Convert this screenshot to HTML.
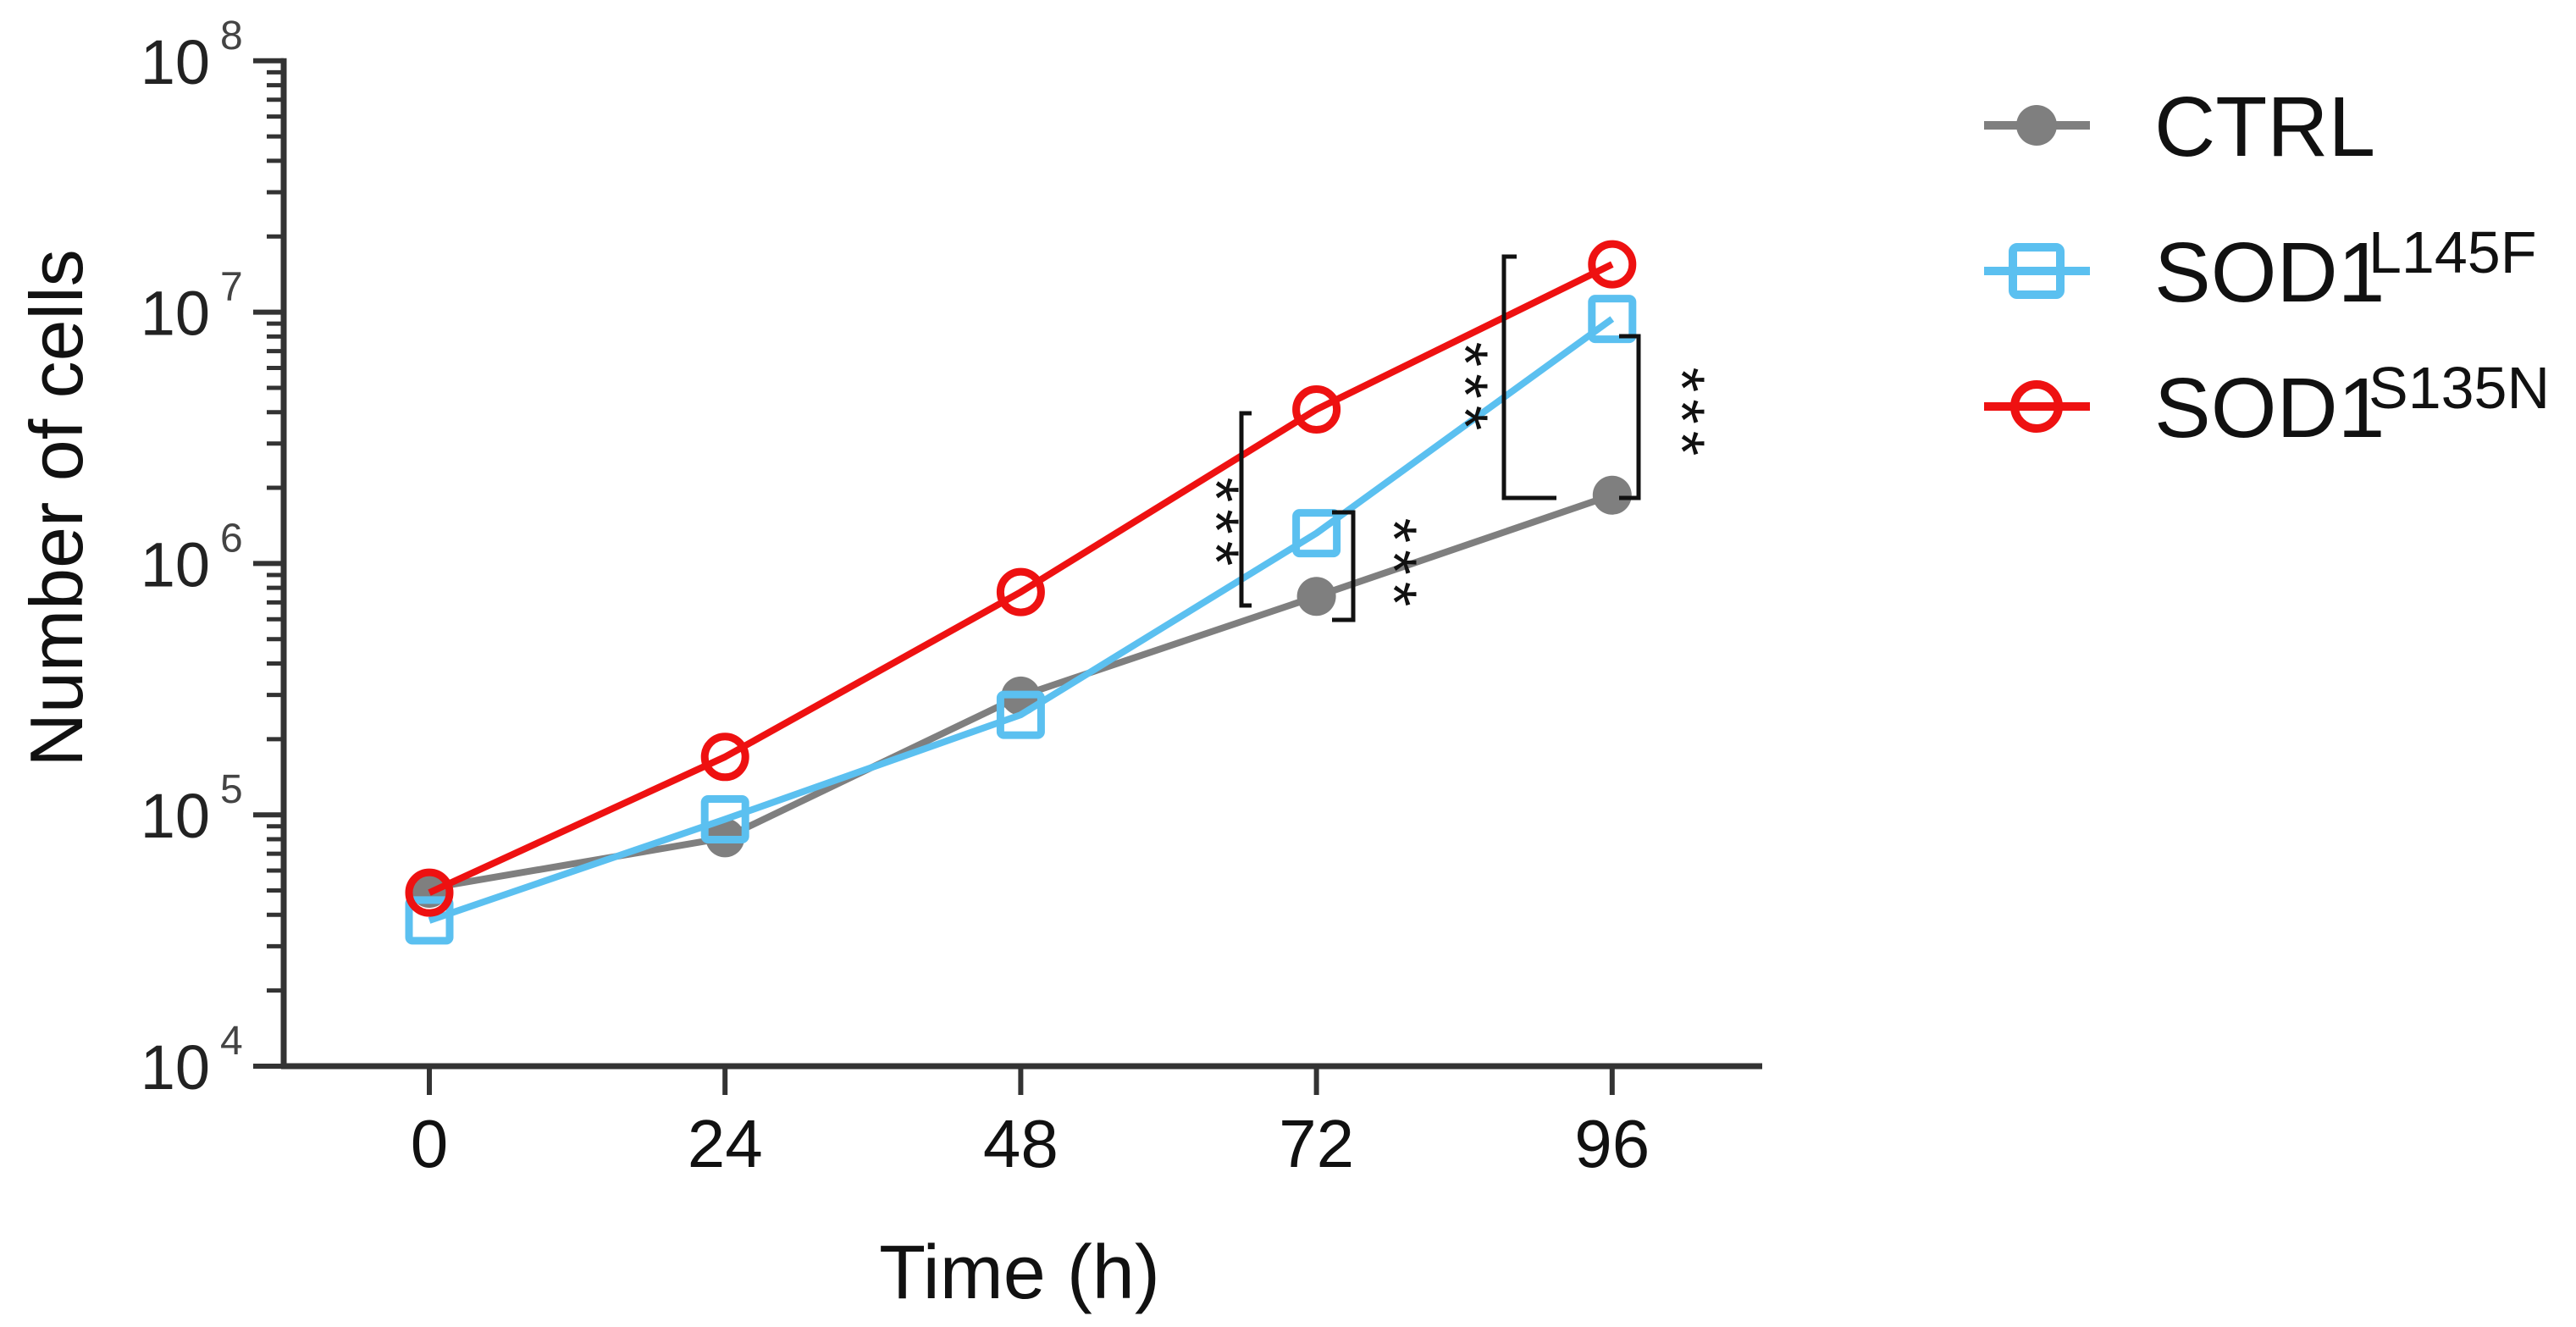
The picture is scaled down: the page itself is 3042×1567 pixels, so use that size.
<!DOCTYPE html>
<html><head><meta charset="utf-8"><style>
html,body{margin:0;padding:0;background:#fff;}
svg{display:block;font-family:"Liberation Sans",Arial,sans-serif;}
</style></head><body>
<svg id="chart" width="3042" height="1567" viewBox="0 0 3042 1567" xmlns="http://www.w3.org/2000/svg">
<g id="axes"></g>
<g id="series"></g>
<g id="sig"></g>
<g id="legend"></g>
<text x="1204" y="1533" font-size="90" text-anchor="middle" fill="#111">Time (h)</text>
<text transform="translate(97,600) rotate(-90)" font-size="88" text-anchor="middle" fill="#111">Number of cells</text>
</svg>
<script>
const timepoints = [0, 24, 48, 72, 96];
const ctrlValues = [5.1e4, 8.1e4, 2.97e5, 7.4e5, 1.87e6];
const l145fValues = [3.8e4, 9.6e4, 2.5e5, 1.32e6, 9.4e6];
const s135nValues = [4.9e4, 1.7e5, 7.7e5, 4.1e6, 1.55e7];
const yDecades = [4, 5, 6, 7, 8];
const xTickLabels = ["0", "24", "48", "72", "96"];

const NS = "http://www.w3.org/2000/svg";
const X0 = 507, XSTEP = 349.2;
const Y4 = 1259, DEC = 296.8;
function xs(t){ return X0 + (t/24)*XSTEP; }
function ys(v){ return Y4 - (Math.log10(v)-4)*DEC; }
function mk(tag, attrs, parent){ const e=document.createElementNS(NS,tag); for(const k in attrs) e.setAttribute(k,attrs[k]); parent.appendChild(e); return e; }

const axes = document.getElementById('axes');
const AX = 335;
let yl = mk('line',{x1:AX,y1:ys(1e8)-3,x2:AX,y2:Y4+3,stroke:'#333','stroke-width':7},axes);


let xl = mk('line',{x1:AX-3,y1:Y4,x2:2081,y2:Y4,stroke:'#333','stroke-width':7},axes);


yDecades.forEach((d,i)=>{
  const y = ys(Math.pow(10,d));
  const t = mk('line',{x1:299,y1:y,x2:AX,y2:y,stroke:'#333','stroke-width':6},axes);
  
  
  const lab = mk('text',{x:248,y:y+27,'font-size':74,'text-anchor':'end',fill:'#222'},axes);
  lab.textContent='10';
  
  
  const sup = mk('text',{x:260,y:y-14,'font-size':48,fill:'#444'},axes);
  sup.textContent=String(d);
  
  
  if(i<yDecades.length-1){
    for(let m=2;m<=9;m++){
      const ym = ys(m*Math.pow(10,d));
      const mt = mk('line',{x1:315,y1:ym,x2:AX,y2:ym,stroke:'#333','stroke-width':5},axes);
      
      
    }
  }
});
timepoints.forEach((t,i)=>{
  const x = xs(t);
  const tk = mk('line',{x1:x,y1:Y4,x2:x,y2:1293,stroke:'#333','stroke-width':6},axes);
  
  
  const lb = mk('text',{x:x,y:1378,'font-size':80,'text-anchor':'middle',fill:'#111'},axes);
  lb.textContent = xTickLabels[i];
  
  
});

const series = document.getElementById('series');
function drawSeries(vals, color, kind, name){
  const g = mk('g',{},series);
  
  
  const pts = vals.map((v,i)=>xs(timepoints[i])+','+ys(v)).join(' ');
  const pl = mk('polyline',{points:pts,fill:'none',stroke:color,'stroke-width':8,'stroke-linejoin':'round'},g);
  
  
  vals.forEach((v,i)=>{
    const x=xs(timepoints[i]), y=ys(v);
    let m;
    if(kind==='dot') m = mk('circle',{cx:x,cy:y,r:23,fill:color},g);
    else if(kind==='square') m = mk('rect',{x:x-24,y:y-24,width:48,height:48,rx:4,fill:'none',stroke:color,'stroke-width':9},g);
    else m = mk('circle',{cx:x,cy:y,r:24,fill:'none',stroke:color,'stroke-width':9},g);
    
    
  });
}
drawSeries(ctrlValues,'#7f7f7f','dot','ctrl');
drawSeries(l145fValues,'#5bc0f0','square','sod1-l145f');
drawSeries(s135nValues,'#ee1111','circle','sod1-s135n');

const sig = document.getElementById('sig');
function bracket(path, sx, sy, name){
  const p = mk('path',{d:path,fill:'none',stroke:'#111','stroke-width':5},sig);
  
  
  const t = mk('text',{x:0,y:0,'font-size':76,'letter-spacing':8,'text-anchor':'middle',fill:'#111',transform:`translate(${sx},${sy}) rotate(90)`},sig);
  t.textContent='***';
  
  
}
bracket('M1478,488 L1466,488 L1466,715 L1478,715',1410,620,'sig-72-red');
bracket('M1573,605 L1598,605 L1598,732 L1573,732',1620,668,'sig-72-blue');
bracket('M1791,303 L1776,303 L1776,588 L1838,588',1704,460,'sig-96-red');
bracket('M1912,397 L1935,397 L1935,588 L1912,588',1960,490,'sig-96-blue');

const legend = document.getElementById('legend');
const legendItems = [
  {y:148, color:'#7f7f7f', kind:'dot', main:'CTRL', sup:'', name:'ctrl'},
  {y:320, color:'#5bc0f0', kind:'square', main:'SOD1', sup:'L145F', name:'sod1-l145f'},
  {y:480, color:'#ee1111', kind:'circle', main:'SOD1', sup:'S135N', name:'sod1-s135n'}
];
legendItems.forEach(it=>{
  const g = mk('g',{},legend);
  
  
  mk('line',{x1:2343,y1:it.y,x2:2468,y2:it.y,stroke:it.color,'stroke-width':10},g);
  if(it.kind==='dot') mk('circle',{cx:2405,cy:it.y,r:24,fill:it.color},g);
  else if(it.kind==='square') mk('rect',{x:2377,y:it.y-28,width:56,height:56,rx:5,fill:'none',stroke:it.color,'stroke-width':10},g);
  else mk('circle',{cx:2405,cy:it.y,r:26,fill:'none',stroke:it.color,'stroke-width':10},g);
  const t = mk('text',{x:2544,y:it.y+36,'font-size':100,fill:'#111'},g);
  t.textContent = it.main;
  
  
  if(it.sup){
    const s = mk('text',{x:2797,y:it.y+2,'font-size':70,fill:'#111'},g);
    s.textContent = it.sup;
    
    
  }
});
</script>
</body></html>
